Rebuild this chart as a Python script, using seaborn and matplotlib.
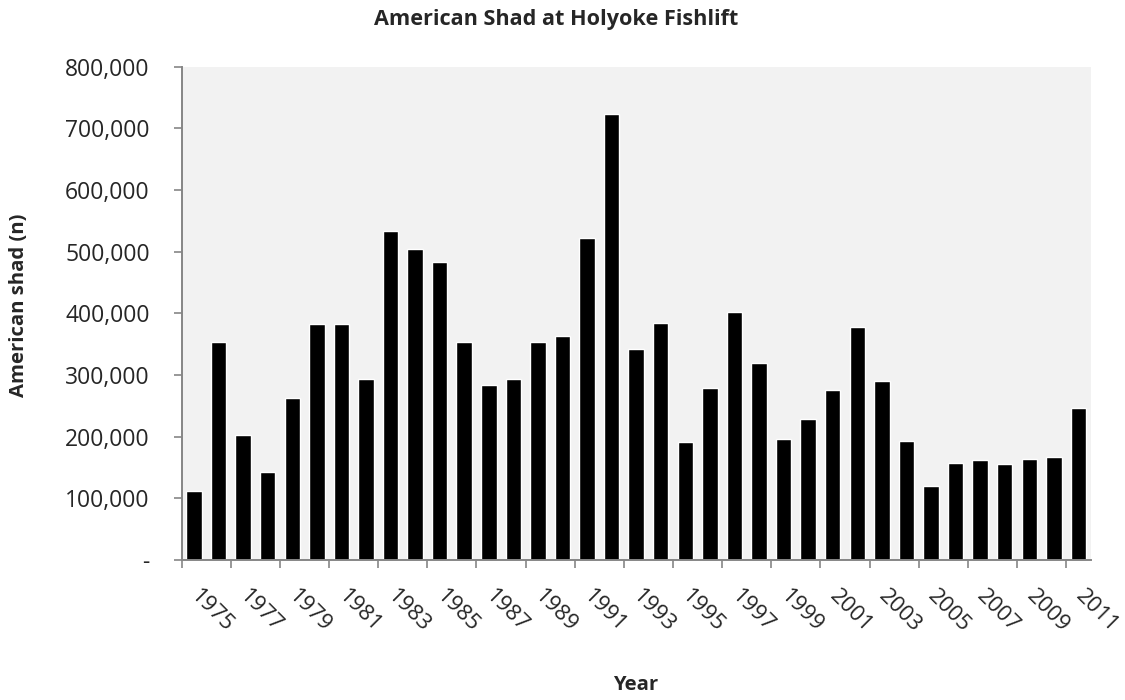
import numpy as np
import pandas as pd
import seaborn as sns
import matplotlib.pyplot as plt
from matplotlib.ticker import FuncFormatter, FixedLocator

sns.set_theme(style="white")
plt.rcParams['font.family'] = ['Open Sans', 'DejaVu Sans']

# Shad counts
years = list(range(1975, 2012))
shad = [112000, 353000, 203000, 142000, 263000, 383000, 383000, 293000, 533000, 504000,
        484000, 353000, 283000, 293000, 353000, 363000, 523000, 724000, 343000, 384000,
        192000, 279000, 402000, 319000, 197000, 228000, 276000, 378000, 290000, 193000,
        120000, 158000, 162000, 156000, 164000, 167000, 247000]
y_ticks = [0, 100000, 200000, 300000, 400000, 500000, 600000, 700000, 800000]

df = pd.DataFrame({'year': [str(y) for y in years], 'shad': shad})

fig = plt.figure(figsize=(11.25, 7), dpi=100)
ax = fig.add_axes([0.1615, 0.2, 0.808, 0.7047])
ax.set_facecolor('#F2F2F2')

sns.barplot(data=df, x='year', y='shad', color='black', width=0.63,
            saturation=1, ax=ax)

ax.set_xlim(-0.5, len(years) - 0.5)
ax.set_ylim(0, 800000)
ax.set_yticks(y_ticks)
ax.yaxis.set_major_formatter(FuncFormatter(lambda v, p: '-' if v == 0 else f'{int(v):,}'))
ax.tick_params(axis='y', labelsize=16.5, length=6, width=1.2, color='#868686',
               left=True, direction='out', pad=17)

# boundary ticks every two categories, labels on odd years
ax.xaxis.set_major_locator(FixedLocator(np.arange(-0.5, len(years) - 1, 2)))
ax.xaxis.set_minor_locator(FixedLocator(np.arange(0, len(years), 2)))
ax.xaxis.set_major_formatter(FuncFormatter(lambda v, p: ''))
ax.xaxis.set_minor_formatter(FuncFormatter(lambda v, p: years[int(round(v))]))
ax.tick_params(axis='x', which='major', length=6, width=1.2, color='#868686',
               bottom=True, direction='out')
ax.tick_params(axis='x', which='minor', length=0, labelsize=16, pad=24)
for lbl in ax.get_xticklabels(minor=True):
    lbl.set_rotation(-45)
    lbl.set_ha('left')
    lbl.set_va('center')
    lbl.set_rotation_mode('anchor')

for side in ['top', 'right']:
    ax.spines[side].set_visible(False)
for side in ['left', 'bottom']:
    ax.spines[side].set_color('#868686')
    ax.spines[side].set_linewidth(1.4)

ax.set_xlabel('')
ax.set_ylabel('')
fig.text(0.017, 0.564, 'American shad (n)', rotation=90, ha='center', va='center',
         fontsize=14.6, fontweight='bold')
fig.text(0.5653, 0.022, 'Year', ha='center', va='center', fontsize=14.6, fontweight='bold')
fig.text(0.494, 0.972, 'American Shad at Holyoke Fishlift', ha='center', va='center',
         fontsize=15.6, fontweight='bold')

fig.savefig('out.png', dpi=100)
